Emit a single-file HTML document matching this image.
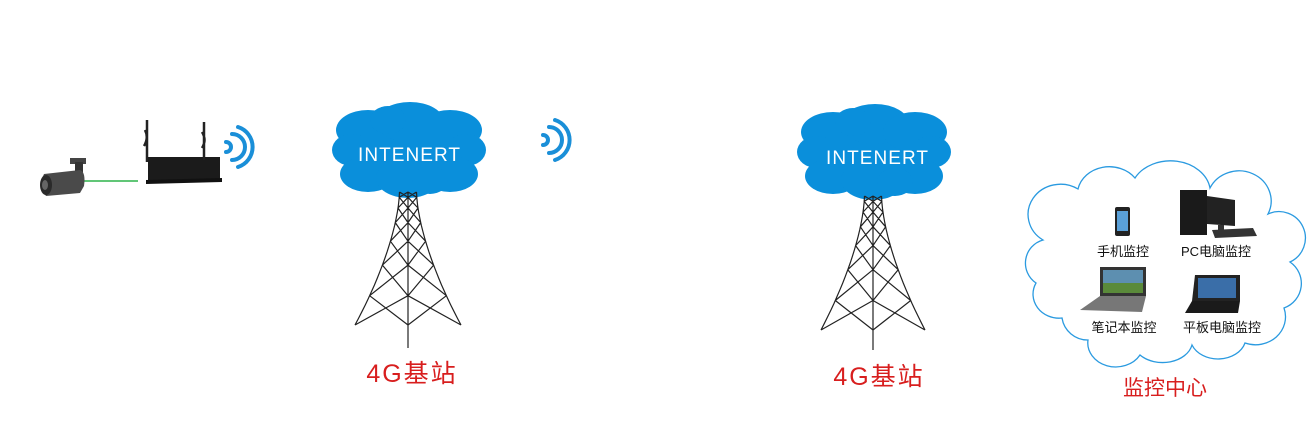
<!DOCTYPE html>
<html><head><meta charset="utf-8"><style>
html,body{margin:0;padding:0;background:#fff;}
svg{display:block;}
text{font-family:"Liberation Sans","Noto Sans CJK SC",sans-serif;}
</style></head><body>
<svg id="s" width="1310" height="444" viewBox="0 0 1310 444" xmlns="http://www.w3.org/2000/svg">
<defs>
<g id="cloud">
<ellipse cx="0" cy="0" rx="62" ry="30"/>
<ellipse cx="-40" cy="-20" rx="32" ry="20"/>
<ellipse cx="2" cy="-28" rx="34" ry="20"/>
<ellipse cx="42" cy="-20" rx="32" ry="20"/>
<ellipse cx="-56" cy="0" rx="20" ry="16"/>
<ellipse cx="58" cy="0" rx="20" ry="16"/>
<ellipse cx="-40" cy="24" rx="28" ry="18"/>
<ellipse cx="0" cy="28" rx="32" ry="20"/>
<ellipse cx="42" cy="24" rx="28" ry="18"/>
<ellipse cx="-20" cy="-30" rx="18" ry="14"/>
<ellipse cx="22" cy="30" rx="18" ry="14"/>
</g>
<g id="wifi" fill="none" stroke="#1a8fd8" stroke-width="4" stroke-linecap="round">
<path d="M0,-4 A5,5 0 0 1 0,6"/>
<path d="M6,-12 A13,13 0 0 1 6,14"/>
<path d="M12,-19 A21,21 0 0 1 12,21"/>
</g>
</defs>

<use href="#cloud" x="408" y="150" fill="#0a8fdb"/>
<use href="#cloud" x="873" y="152" fill="#0a8fdb"/>
<text x="358" y="161" fill="#fff" font-size="19" textLength="102" lengthAdjust="spacing">INTENERT</text>
<text x="826" y="164" fill="#fff" font-size="19" textLength="102" lengthAdjust="spacing">INTENERT</text>

<g id="towers" stroke="#222" stroke-width="1.2" fill="none"></g>

<text x="412" y="382" fill="#d81e1e" font-size="25" text-anchor="middle" letter-spacing="2">4G基站</text>
<text x="879" y="385" fill="#d81e1e" font-size="25" text-anchor="middle" letter-spacing="2">4G基站</text>

<use href="#wifi" x="226" y="146"/>
<use href="#wifi" x="543" y="139"/>

<line x1="83" y1="181" x2="138" y2="181" stroke="#2db34a" stroke-width="1.5"/>
<rect x="70" y="158" width="16" height="6" fill="#444"/>
<rect x="75" y="162" width="8" height="12" fill="#333"/>
<path d="M44,174 L80,170 Q86,172 84,186 L80,193 L46,196 Q38,186 44,174Z" fill="#4a4a4a"/>
<ellipse cx="46" cy="185" rx="6" ry="10" fill="#2a2a2a"/>
<ellipse cx="45" cy="185" rx="3" ry="5" fill="#666"/>
<rect x="148" y="157" width="72" height="23" fill="#1b1b1b"/>
<polygon points="146,180 222,178 222,182 146,184" fill="#111"/>
<path d="M147,120 L147,162 M145,130 q4,8 -1,16 M204,122 L204,160 M202,132 q5,8 0,16" stroke="#222" stroke-width="2.5" fill="none"/>

<path d="M1043,240 A30,28 0 0 1 1078,189 A32,28 0 0 1 1135,178 A40,32 0 0 1 1210,188 A32,30 0 0 1 1268,214 A26,26 0 0 1 1290,262 A26,26 0 0 1 1284,308 A30,28 0 0 1 1245,343 A28,22 0 0 1 1192,345 A30,22 0 0 1 1140,355 A28,24 0 0 1 1088,340 A26,26 0 0 1 1062,318 A26,24 0 0 1 1036,283 A24,24 0 0 1 1043,240Z" fill="#fff" stroke="#2a9ae0" stroke-width="1.3"/>

<rect x="1115" y="207" width="15" height="29" rx="2" fill="#222"/>
<rect x="1117" y="211" width="11" height="20" fill="#5aa0d8"/>
<rect x="1180" y="190" width="27" height="45" fill="#1a1a1a"/>
<polygon points="1207,196 1235,200 1235,226 1207,224" fill="#222"/>
<rect x="1218" y="225" width="6" height="5" fill="#333"/>
<polygon points="1212,230 1253,228 1257,236 1215,238" fill="#333"/>
<rect x="1100" y="267" width="46" height="29" fill="#333"/>
<rect x="1103" y="270" width="40" height="23" fill="#5d8fb0"/>
<rect x="1103" y="283" width="40" height="10" fill="#5a8a3a"/>
<polygon points="1100,296 1146,296 1142,312 1080,310" fill="#777"/>
<polygon points="1195,275 1240,275 1240,301 1192,301" fill="#222"/>
<rect x="1198" y="278" width="38" height="20" fill="#3a6ea8"/>
<polygon points="1192,301 1240,301 1238,313 1185,313" fill="#1a1a1a"/>

<g font-size="13" fill="#111" text-anchor="middle">
<text x="1123" y="256">手机监控</text>
<text x="1216" y="256">PC电脑监控</text>
<text x="1124" y="332">笔记本监控</text>
<text x="1222" y="332">平板电脑监控</text>
</g>
<text x="1165" y="395" fill="#d81e1e" font-size="21" text-anchor="middle">监控中心</text>
</svg>
<script>
(function(){
var g=document.getElementById('towers');
function tower(cx,top,base,half,lineEnd){
  var lv=[0,0.04,0.12,0.23,0.37,0.55,0.78,1.0];
  var pts=lv.map(function(t){var y=top+t*(base-top);var d=8.5+(half-8.5)*Math.pow(t,1.6);return {y:y,d:d};});
  var s='';
  function L(a,b,c,d){s+='M'+a.toFixed(1)+','+b.toFixed(1)+'L'+c.toFixed(1)+','+d.toFixed(1);}
  var lp='M'+(cx-pts[0].d)+','+pts[0].y, rp='M'+(cx+pts[0].d)+','+pts[0].y;
  for(var t=0;t<=1.0001;t+=0.05){var y=top+t*(base-top);var d=8.5+(half-8.5)*Math.pow(t,1.6);lp+='L'+(cx-d).toFixed(1)+','+y.toFixed(1);rp+='L'+(cx+d).toFixed(1)+','+y.toFixed(1);}
  s+=lp+rp;
  L(cx,top,cx,lineEnd);
  for(var i=0;i<pts.length-1;i++){
    var a=pts[i],b=pts[i+1];
    L(cx-a.d,a.y,cx,b.y);L(cx,a.y,cx-b.d,b.y);
    L(cx+a.d,a.y,cx,b.y);L(cx,a.y,cx+b.d,b.y);
  }
  var p=document.createElementNS('http://www.w3.org/2000/svg','path');p.setAttribute('d',s);g.appendChild(p);
}
tower(408,192,325,53,348);
tower(873,196,330,52,350);
})();
</script>
</body></html>
